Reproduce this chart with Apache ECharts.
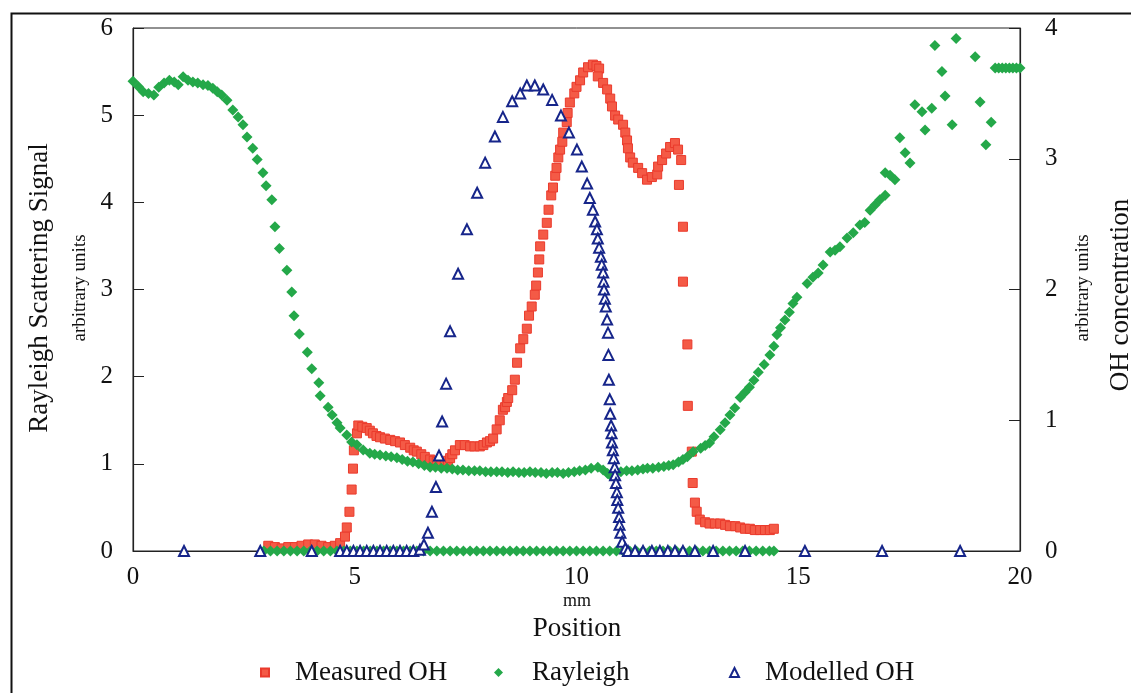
<!DOCTYPE html>
<html>
<head>
<meta charset="utf-8">
<script src="https://cdn.jsdelivr.net/npm/echarts@6/dist/echarts.min.js"></script>
<style>
html,body{margin:0;padding:0;background:#fff;}
#chart{width:1131px;height:693px;}
</style>
</head>
<body>
<div id="chart"></div>
<script>
// Position (mm) axis ticks
var xTicks = [0, 5, 10, 15, 20];
var leftTicks = [0, 1, 2, 3, 4, 5, 6];
var rightTicks = [0, 1, 2, 3, 4];

// Rayleigh scattering signal (left axis, arbitrary units): [mm, value]
var rayleigh = [
[0,5.39],[0.12,5.33],[0.23,5.27],[0.35,5.25],[0.47,5.23],[0.58,5.32],[0.7,5.37],[0.82,5.4],[0.93,5.38],[1.02,5.35],
[1.13,5.44],[1.24,5.4],[1.35,5.38],[1.46,5.37],[1.58,5.35],[1.69,5.34],[1.8,5.31],[1.9,5.27],[2.0,5.23],[2.12,5.17],
[2.25,5.06],[2.37,4.98],[2.48,4.89],[2.57,4.75],[2.7,4.62],[2.8,4.49],[2.93,4.34],[3.0,4.19],[3.13,4.03],[3.2,3.72],
[3.3,3.47],[3.47,3.22],[3.58,2.97],[3.63,2.70],[3.75,2.49],[3.93,2.28],[4.03,2.09],[4.19,1.93],[4.22,1.78],[4.4,1.65],
[4.49,1.56],[4.6,1.47],[4.67,1.41],[4.82,1.33],[4.93,1.25],[5.05,1.22],[5.19,1.16],[5.34,1.12],[5.45,1.11],[5.57,1.10],
[5.7,1.09],[5.82,1.08],[5.95,1.07],[6.07,1.05],[6.19,1.03],[6.31,1.02],[6.44,1.00],[6.57,0.98],[6.7,0.96],[6.82,0.96],
[6.95,0.95],[7.08,0.95],[7.2,0.94],[7.32,0.93],[7.44,0.93],[7.57,0.92],[7.7,0.92],[7.82,0.92],[7.95,0.91],[8.07,0.91],
[8.2,0.91],[8.32,0.91],[8.45,0.90],[8.57,0.91],[8.7,0.90],[8.82,0.90],[8.95,0.91],[9.07,0.90],[9.2,0.90],[9.32,0.89],
[9.45,0.90],[9.57,0.90],[9.7,0.89],[9.82,0.90],[9.95,0.91],[10.07,0.92],[10.2,0.93],[10.33,0.95],[10.48,0.96],[10.6,0.93],
[10.7,0.89],[10.76,0.87],[10.88,0.90],[11.0,0.91],[11.13,0.92],[11.25,0.92],[11.38,0.93],[11.5,0.94],[11.6,0.95],[11.72,0.95],
[11.85,0.96],[11.97,0.97],[12.08,0.98],[12.18,0.99],[12.3,1.02],[12.4,1.05],[12.5,1.08],[12.63,1.14],[12.8,1.18],[12.9,1.21],
[13.0,1.24],[13.1,1.31],[13.24,1.39],[13.35,1.47],[13.46,1.56],[13.57,1.64],[13.69,1.76],[13.8,1.82],[13.9,1.88],[14.0,1.96],
[14.1,2.05],[14.23,2.14],[14.36,2.25],[14.45,2.35],[14.52,2.48],[14.6,2.56],[14.7,2.65],[14.8,2.74],[14.88,2.84],[14.97,2.91],
[15.2,3.07],[15.33,3.14],[15.45,3.19],[15.56,3.28],[15.72,3.43],[15.83,3.45],[15.94,3.49],[16.1,3.59],[16.24,3.65],[16.39,3.74],
[16.5,3.77],[16.62,3.91],[16.73,3.97],[16.84,4.03],[16.96,4.08],[16.96,4.34],[17.07,4.31],[17.18,4.26],[17.29,4.74],[17.41,4.57],
[17.52,4.45],[17.63,5.12],[17.79,5.04],[17.86,4.83],[18.01,5.08],[18.08,5.80],[18.24,5.50],[18.31,5.22],[18.47,4.89],[18.56,5.88],
[18.99,5.67],[19.1,5.15],[19.23,4.66],[19.35,4.92],[19.44,5.54],[19.52,5.54],[19.6,5.54],[19.68,5.54],[19.76,5.54],[19.84,5.54],
[19.92,5.54],[20.0,5.54]
];
// Rayleigh points lying on the zero line (mm)
var rayleighZeroX = [2.95,3.1,3.25,3.4,3.55,3.7,3.85,4.0,4.15,4.3,4.45,4.6,4.75,4.9,5.05,5.2,5.35,5.5,5.65,5.8,
5.95,6.1,6.25,6.4,6.55,6.7,6.85,7.0,7.15,7.3,7.45,7.6,7.75,7.9,8.05,8.2,8.35,8.5,8.65,8.8,
8.95,9.1,9.25,9.4,9.55,9.7,9.85,10.0,10.15,10.3,10.45,10.6,10.75,10.9,11.05,11.2,11.35,11.5,11.65,11.8,
11.95,12.1,12.25,12.4,12.55,12.7,12.85,13.0,13.15,13.3,13.45,13.6,13.75,13.9,14.05,14.2,14.35,14.45];

// Measured OH (right axis, arbitrary units): [mm, value]
var measuredOH = [
[3.05,0.04],[3.2,0.03],[3.35,0.02],[3.5,0.03],[3.65,0.03],[3.8,0.04],[3.95,0.05],[4.1,0.05],[4.25,0.04],[4.4,0.03],
[4.55,0.04],[4.67,0.06],[4.78,0.11],[4.82,0.18],[4.88,0.30],[4.93,0.47],[4.96,0.63],[4.98,0.77],[5.05,0.90],[5.08,0.96],
[5.17,0.95],[5.27,0.94],[5.34,0.92],[5.41,0.90],[5.49,0.88],[5.57,0.87],[5.68,0.86],[5.8,0.85],[5.91,0.84],[6.02,0.83],
[6.13,0.81],[6.25,0.79],[6.33,0.77],[6.4,0.76],[6.5,0.74],[6.58,0.72],[6.7,0.70],[6.78,0.69],[6.85,0.68],[6.95,0.67],
[7.03,0.68],[7.1,0.69],[7.15,0.71],[7.2,0.74],[7.26,0.77],[7.37,0.81],[7.48,0.81],[7.6,0.80],[7.7,0.80],[7.82,0.80],
[7.9,0.81],[7.98,0.83],[8.05,0.84],[8.12,0.86],[8.2,0.93],[8.27,1.00],[8.34,1.08],[8.39,1.10],[8.43,1.14],[8.46,1.17],
[8.55,1.23],[8.61,1.31],[8.66,1.44],[8.73,1.55],[8.8,1.62],[8.88,1.70],[8.93,1.80],[8.99,1.87],[9.06,1.96],[9.09,2.03],
[9.13,2.13],[9.16,2.23],[9.18,2.33],[9.25,2.42],[9.33,2.51],[9.37,2.61],[9.43,2.72],[9.47,2.78],[9.52,2.87],[9.55,2.93],
[9.59,3.01],[9.63,3.07],[9.68,3.13],[9.7,3.20],[9.78,3.28],[9.8,3.35],[9.85,3.43],[9.95,3.50],[10.0,3.55],[10.08,3.60],
[10.15,3.66],[10.26,3.70],[10.37,3.72],[10.45,3.71],[10.51,3.69],[10.48,3.63],[10.6,3.58],[10.69,3.53],[10.76,3.46],[10.8,3.40],
[10.87,3.33],[10.94,3.30],[11.05,3.26],[11.1,3.20],[11.14,3.14],[11.16,3.08],[11.21,3.01],[11.27,2.97],[11.39,2.93],[11.48,2.89],
[11.59,2.84],[11.7,2.86],[11.82,2.88],[11.84,2.94],[11.93,2.99],[12.02,3.04],[12.11,3.09],[12.22,3.12],[12.29,3.07],[12.36,2.99],
[12.31,2.80],[12.4,2.48],[12.4,2.06],[12.5,1.58],[12.51,1.11],[12.6,0.76],[12.62,0.52],[12.67,0.37],[12.71,0.30],[12.78,0.24],
[12.9,0.22],[13.0,0.21],[13.12,0.21],[13.24,0.21],[13.35,0.20],[13.46,0.19],[13.58,0.19],[13.69,0.18],[13.8,0.17],[13.91,0.17],
[14.02,0.16],[14.14,0.16],[14.25,0.16],[14.36,0.16],[14.45,0.17]
];

// Modelled OH (right axis, arbitrary units): [mm, value]
var modelledOH = [
[1.15,0],[2.87,0],[4.03,0],[4.67,0],[4.82,0],[4.97,0],[5.12,0],[5.27,0],[5.42,0],[5.57,0],
[5.72,0],[5.87,0],[6.02,0],[6.17,0],[6.32,0],[6.47,0.01],[6.56,0.05],[6.65,0.14],[6.74,0.30],[6.83,0.49],
[6.9,0.73],[6.97,0.99],[7.06,1.28],[7.15,1.68],[7.33,2.12],[7.53,2.46],[7.76,2.74],[7.94,2.97],[8.16,3.17],[8.34,3.32],
[8.55,3.44],[8.73,3.50],[8.88,3.56],[9.06,3.56],[9.25,3.53],[9.45,3.45],[9.65,3.33],[9.83,3.20],[10.01,3.07],[10.12,2.94],
[10.24,2.81],[10.3,2.70],[10.37,2.61],[10.42,2.52],[10.46,2.46],[10.48,2.39],[10.51,2.32],[10.55,2.25],[10.57,2.19],[10.6,2.13],
[10.61,2.06],[10.62,2.00],[10.64,1.93],[10.66,1.87],[10.69,1.77],[10.71,1.67],[10.72,1.50],[10.73,1.31],[10.75,1.16],[10.76,1.05],
[10.78,0.96],[10.79,0.90],[10.8,0.83],[10.82,0.77],[10.84,0.71],[10.86,0.64],[10.87,0.58],[10.89,0.52],[10.91,0.45],[10.92,0.39],
[10.94,0.33],[10.96,0.26],[10.97,0.20],[10.99,0.14],[11.03,0.07],[11.1,0.02],[11.16,0],[11.32,0],[11.5,0],[11.7,0],
[11.88,0],[12.06,0],[12.22,0],[12.4,0],[12.67,0],[13.08,0],[13.8,0],[15.15,0],[16.89,0],[18.65,0]
];

var FONT = '"Liberation Serif", "Times New Roman", serif';
var rayleighAll = rayleigh.concat(rayleighZeroX.map(function (x) { return [x, 0]; }));

var chart = echarts.init(document.getElementById('chart'), null, {renderer: 'canvas'});
var legendText = {fontFamily: FONT, fontSize: 27, color: '#111'};
chart.setOption({
  animation: false,
  backgroundColor: '#ffffff',
  grid: {left: 133, right: 111, top: 28, bottom: 142, show: true, borderColor: '#222', borderWidth: 1, backgroundColor: 'transparent'},
  legend: [
    {data: ['Measured OH'], left: 255, top: 654, itemWidth: 8, itemHeight: 8, textStyle: Object.assign({padding: [0, 0, 0, 21]}, legendText)},
    {data: ['Rayleigh'], left: 489, top: 654, itemWidth: 9, itemHeight: 9, textStyle: Object.assign({padding: [0, 0, 0, 24]}, legendText)},
    {data: ['Modelled OH'], left: 724, top: 654, itemWidth: 9, itemHeight: 9, textStyle: Object.assign({padding: [0, 0, 0, 21]}, legendText)}
  ],
  xAxis: {
    type: 'value', min: xTicks[0], max: xTicks[xTicks.length - 1], interval: 5,
    axisLine: {show: true, lineStyle: {color: '#222', width: 1.2}},
    axisTick: {show: false},
    splitLine: {show: false},
    axisLabel: {fontFamily: FONT, fontSize: 25, color: '#111', margin: 14}
  },
  yAxis: [
    {
      type: 'value', min: leftTicks[0], max: leftTicks[leftTicks.length - 1], interval: 1,
      axisLine: {show: true, lineStyle: {color: '#222', width: 1.2}},
      axisTick: {show: true, inside: true, length: 11, lineStyle: {color: '#222'}},
      splitLine: {show: false},
      axisLabel: {fontFamily: FONT, fontSize: 25, color: '#111', margin: 20}
    },
    {
      type: 'value', position: 'right', min: rightTicks[0], max: rightTicks[rightTicks.length - 1], interval: 1,
      axisLine: {show: true, lineStyle: {color: '#222', width: 1.2}},
      axisTick: {show: true, inside: true, length: 11, lineStyle: {color: '#222'}},
      splitLine: {show: false},
      axisLabel: {fontFamily: FONT, fontSize: 25, color: '#111', margin: 25}
    }
  ],
  graphic: [
    {type: 'rect', left: 9, top: 11, shape: {width: 1250, height: 800}, style: {fill: 'none', stroke: '#111', lineWidth: 2}, silent: true},
    {type: 'text', x: 40, y: 288, rotation: Math.PI / 2, style: {text: 'Rayleigh Scattering Signal', font: '27px ' + FONT, fill: '#111', align: 'center', verticalAlign: 'middle'}},
    {type: 'text', x: 80, y: 288, rotation: Math.PI / 2, style: {text: 'arbitrary units', font: '19px ' + FONT, fill: '#111', align: 'center', verticalAlign: 'middle'}},
    {type: 'text', x: 1121, y: 295, rotation: Math.PI / 2, style: {text: 'OH concentration', font: '27px ' + FONT, fill: '#111', align: 'center', verticalAlign: 'middle'}},
    {type: 'text', x: 1083, y: 288, rotation: Math.PI / 2, style: {text: 'arbitrary units', font: '19px ' + FONT, fill: '#111', align: 'center', verticalAlign: 'middle'}},
    {type: 'text', x: 577, y: 601, style: {text: 'mm', font: '18px ' + FONT, fill: '#111', align: 'center', verticalAlign: 'middle'}},
    {type: 'text', x: 577, y: 629, style: {text: 'Position', font: '27px ' + FONT, fill: '#111', align: 'center', verticalAlign: 'middle'}}
  ],
  series: [
    {
      name: 'Measured OH', type: 'scatter', yAxisIndex: 1, data: measuredOH,
      symbol: 'rect', symbolSize: 9,
      itemStyle: {color: '#f45a46', borderColor: '#ea3a2c', borderWidth: 1, opacity: 1}
    },
    {
      name: 'Rayleigh', type: 'scatter', yAxisIndex: 0, data: rayleighAll,
      symbol: 'diamond', symbolSize: 11,
      itemStyle: {color: '#24a849', opacity: 1}
    },
    {
      name: 'Modelled OH', type: 'scatter', yAxisIndex: 1, data: modelledOH,
      symbol: 'triangle', symbolSize: 10,
      itemStyle: {color: '#ffffff', borderColor: '#16258a', borderWidth: 2, opacity: 1}
    }
  ]
});
</script>
</body>
</html>
